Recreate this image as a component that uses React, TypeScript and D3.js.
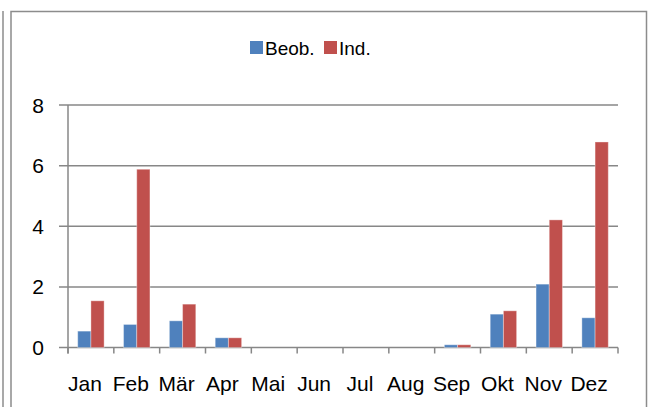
import * as d3 from 'd3';

const months = ['Jan', 'Feb', 'Mär', 'Apr', 'Mai', 'Jun', 'Jul', 'Aug', 'Sep', 'Okt', 'Nov', 'Dez'];
const seriesNames = ['Beob.', 'Ind.'];
const beob = [0.54, 0.76, 0.88, 0.32, 0, 0, 0, 0, 0.09, 1.1, 2.09, 0.98];
const ind = [1.54, 5.88, 1.43, 0.32, 0, 0, 0, 0, 0.09, 1.21, 4.21, 6.78];
const yTicks = [0, 2, 4, 6, 8];
const colors = ['#4F81BD', '#C0504D'];

const W = 651;
const H = 407;
const FONT = "'Liberation Sans', Arial, sans-serif";

export default function App() {
  const x = d3.scaleBand<string>().domain(months).range([68, 618]).padding(0);
  const inner = d3.scaleBand<string>().domain(seriesNames).range([0, x.bandwidth()])
    .paddingInner(0).paddingOuter(0.736);
  const y = d3.scaleLinear().domain([0, 8]).range([347.5, 105]);
  const values = [beob, ind];
  const grid = '#878787';
  const tickXs = [...months.map(m => x(m) as number), 618];

  return (
    <div style={{ position: 'absolute', left: 0, top: 0 }}>
      <svg width={W} height={H} style={{ display: 'block', background: '#fff' }}>
        {/* frame */}
        <line x1={3} x2={3} y1={11} y2={H} stroke="#8c8c8c" strokeWidth={1.5} />
        <path d={`M11,${H} V11.5 H646.5 V${H}`} fill="none" stroke="#8c8c8c" strokeWidth={1.5} />

        {/* legend */}
        <g fontFamily={FONT} fontSize={19} fill="#000">
          <rect x={250} y={41} width={13} height={13} fill={colors[0]} />
          <text x={265} y={55}>{seriesNames[0]}</text>
          <rect x={324} y={41} width={13} height={13} fill={colors[1]} />
          <text x={339} y={55}>{seriesNames[1]}</text>
        </g>

        {/* gridlines */}
        {yTicks.map(t => (
          <line key={t} x1={59} x2={618} y1={y(t)} y2={y(t)} stroke={grid} strokeWidth={1.5} />
        ))}
        {/* y axis */}
        <line x1={68} x2={68} y1={y(8)} y2={y(0) + 6} stroke={grid} strokeWidth={1.5} />
        {tickXs.map((tx, i) => (
          <line key={i} x1={tx} x2={tx} y1={y(0)} y2={y(0) + 6} stroke={grid} strokeWidth={1.5} />
        ))}

        {/* bars */}
        {values.map((vals, si) => (
          <g key={si} fill={colors[si]}>
            {vals.map((v, i) => v > 0 && (
              <rect key={i}
                x={(x(months[i]) as number) + (inner(seriesNames[si]) as number)}
                y={y(v)}
                width={inner.bandwidth()}
                height={y(0) - y(v)}
                stroke="#ffffff" strokeOpacity={0.35} strokeWidth={1} />
            ))}
          </g>
        ))}

        {/* y labels */}
        <g fontFamily={FONT} fontSize={21} fill="#000" textAnchor="end">
          {yTicks.map(t => (
            <text key={t} x={44} y={y(t) + 7.5}>{t}</text>
          ))}
        </g>
        {/* x labels */}
        <g fontFamily={FONT} fontSize={21} fill="#000" textAnchor="middle">
          {months.map(m => (
            <text key={m} x={(x(m) as number) + x.bandwidth() / 2 - 6} y={391}>{m}</text>
          ))}
        </g>
      </svg>
    </div>
  );
}
